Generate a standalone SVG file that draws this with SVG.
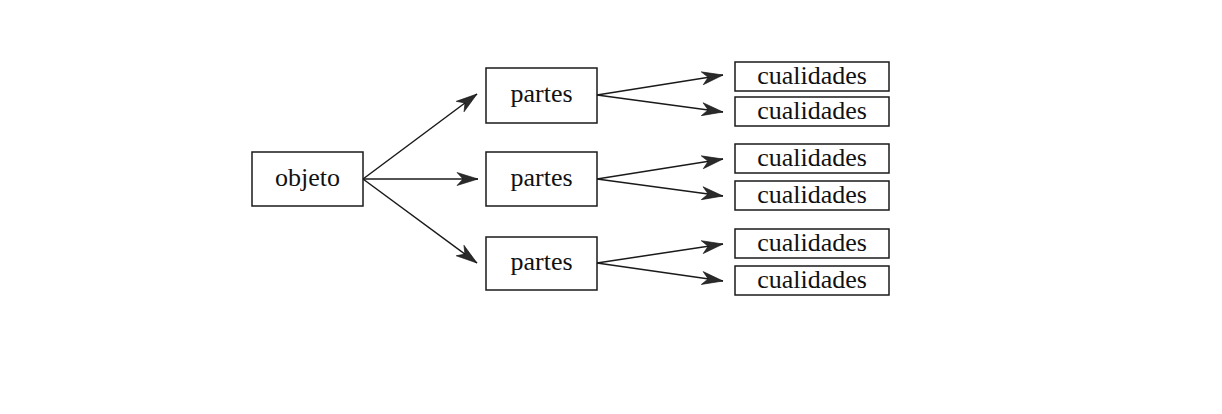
<svg xmlns="http://www.w3.org/2000/svg" width="1222" height="414" viewBox="0 0 1222 414">
<style>
.box{fill:#fff;stroke:#1a1a1a;stroke-width:1.5}
.lbl{font-family:"Liberation Serif","DejaVu Serif",serif;font-size:26px;fill:#111;text-anchor:middle}
.edge{stroke:#1a1a1a;stroke-width:1.5;fill:none;marker-end:url(#ah)}
</style>
<defs>
<marker id="ah" markerUnits="userSpaceOnUse" markerWidth="26" markerHeight="16" refX="22" refY="8" orient="auto" viewBox="0 0 26 16">
<path d="M22,8 L1,1.5 L7,8 L1,14.5 Z" fill="#2a2a2a" stroke="#111" stroke-width="0.6"/>
</marker>
</defs>
<rect width="1222" height="414" fill="#fff"/>
<g id="connectors">
<line class="edge" x1="363" y1="179" x2="477" y2="94"/>
<line class="edge" x1="363" y1="179" x2="478" y2="179"/>
<line class="edge" x1="363" y1="179" x2="477" y2="263"/>
<line class="edge" x1="597" y1="95" x2="723" y2="75"/>
<line class="edge" x1="597" y1="95" x2="723" y2="112"/>
<line class="edge" x1="597" y1="179" x2="723" y2="159"/>
<line class="edge" x1="597" y1="179" x2="723" y2="196"/>
<line class="edge" x1="597" y1="263" x2="723" y2="244"/>
<line class="edge" x1="597" y1="263" x2="723" y2="281"/>
</g>
<g id="objeto"><rect class="box" x="252" y="152" width="111" height="54"/><text class="lbl" x="307.5" y="186">objeto</text></g>
<g id="partes1"><rect class="box" x="486" y="68" width="111" height="55"/><text class="lbl" x="541.5" y="102">partes</text></g>
<g id="partes2"><rect class="box" x="486" y="152" width="111" height="54"/><text class="lbl" x="541.5" y="186">partes</text></g>
<g id="partes3"><rect class="box" x="486" y="237" width="111" height="53"/><text class="lbl" x="541.5" y="270">partes</text></g>
<g id="cual1"><rect class="box" x="735" y="62" width="154" height="29"/><text class="lbl" x="812" y="84">cualidades</text></g>
<g id="cual2"><rect class="box" x="735" y="97" width="154" height="29"/><text class="lbl" x="812" y="119">cualidades</text></g>
<g id="cual3"><rect class="box" x="735" y="144" width="154" height="29"/><text class="lbl" x="812" y="166">cualidades</text></g>
<g id="cual4"><rect class="box" x="735" y="181" width="154" height="29"/><text class="lbl" x="812" y="203">cualidades</text></g>
<g id="cual5"><rect class="box" x="735" y="229" width="154" height="29"/><text class="lbl" x="812" y="251">cualidades</text></g>
<g id="cual6"><rect class="box" x="735" y="266" width="154" height="29"/><text class="lbl" x="812" y="288">cualidades</text></g>
</svg>
